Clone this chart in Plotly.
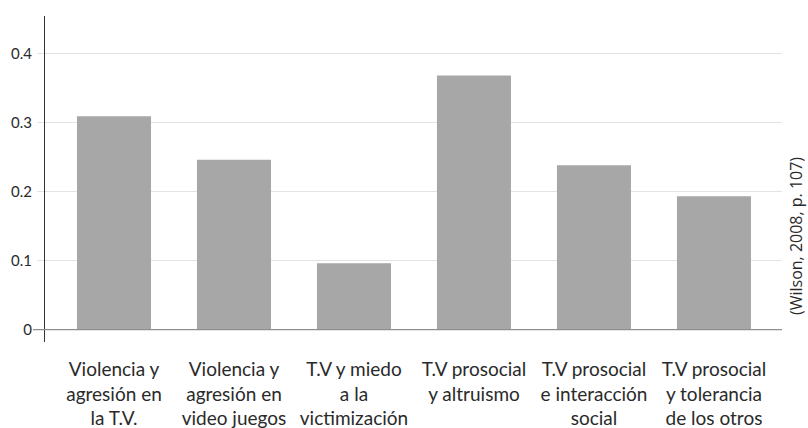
import plotly.graph_objects as go

categories = [
    "Violencia y<br>agresión en<br>la T.V.",
    "Violencia y<br>agresión en<br>video juegos",
    "T.V y miedo<br>a la<br>victimización",
    "T.V prosocial<br>y altruismo",
    "T.V prosocial<br>e interacción<br>social",
    "T.V prosocial<br>y tolerancia<br>de los otros",
]
values = [0.309, 0.246, 0.096, 0.368, 0.238, 0.193]
tick_vals = [0, 0.1, 0.2, 0.3, 0.4]
tick_text = ["0", "0.1", "0.2", "0.3", "0.4"]
source = "(Wilson, 2008, p. 107)"

FONT = "Lato"
TXT = "#2a2a2a"

fig = go.Figure(go.Bar(
    x=list(range(len(categories))), y=values,
    marker=dict(color="#a8a7a7", line=dict(width=0)),
    hoverinfo="skip",
))

fig.update_layout(
    width=808, height=428,
    margin=dict(l=45, r=26, t=16, b=86, autoexpand=False),
    paper_bgcolor="white", plot_bgcolor="white",
    bargap=0.383,
    showlegend=False,
    hovermode=False,
    font=dict(family=FONT, color=TXT),
)
fig.update_xaxes(
    range=[-0.575, 5.567], automargin=False,
    tickmode="array", tickvals=list(range(len(categories))), ticktext=categories,
    tickfont=dict(size=19, family=FONT, color=TXT),
    showgrid=False, zeroline=False, showline=False, ticks="", ticklen=0,
    ticklabelstandoff=14,
)
fig.update_yaxes(
    range=[-0.018, 0.454], automargin=False,
    tickmode="array", tickvals=tick_vals, ticktext=tick_text,
    tickfont=dict(size=15, family=FONT, color=TXT),
    showgrid=True, gridcolor="#e3e3e3", gridwidth=1,
    zeroline=False,
    showline=True, linecolor="#333333", linewidth=1,
    ticks="outside", ticklen=7, tickcolor="#e3e3e3", tickwidth=1,
    ticklabelstandoff=2,
)
# zero baseline extended beyond the axis as in the reference
fig.add_shape(type="line", xref="paper", yref="y",
              x0=-12 / 737, x1=1, y0=0, y1=0,
              line=dict(color="#8f8f8f", width=1.2), layer="above")
fig.add_annotation(
    text=source, xref="paper", yref="paper",
    x=1 + 14 / 737, y=0.325, textangle=-90, showarrow=False,
    font=dict(size=16, family="Open Sans", color=TXT),
    xanchor="center", yanchor="middle",
)

fig.write_html("out.html",
               config={"displayModeBar": False, "staticPlot": True},
               post_script="document.body.style.margin='0';document.body.style.overflow='hidden';")
